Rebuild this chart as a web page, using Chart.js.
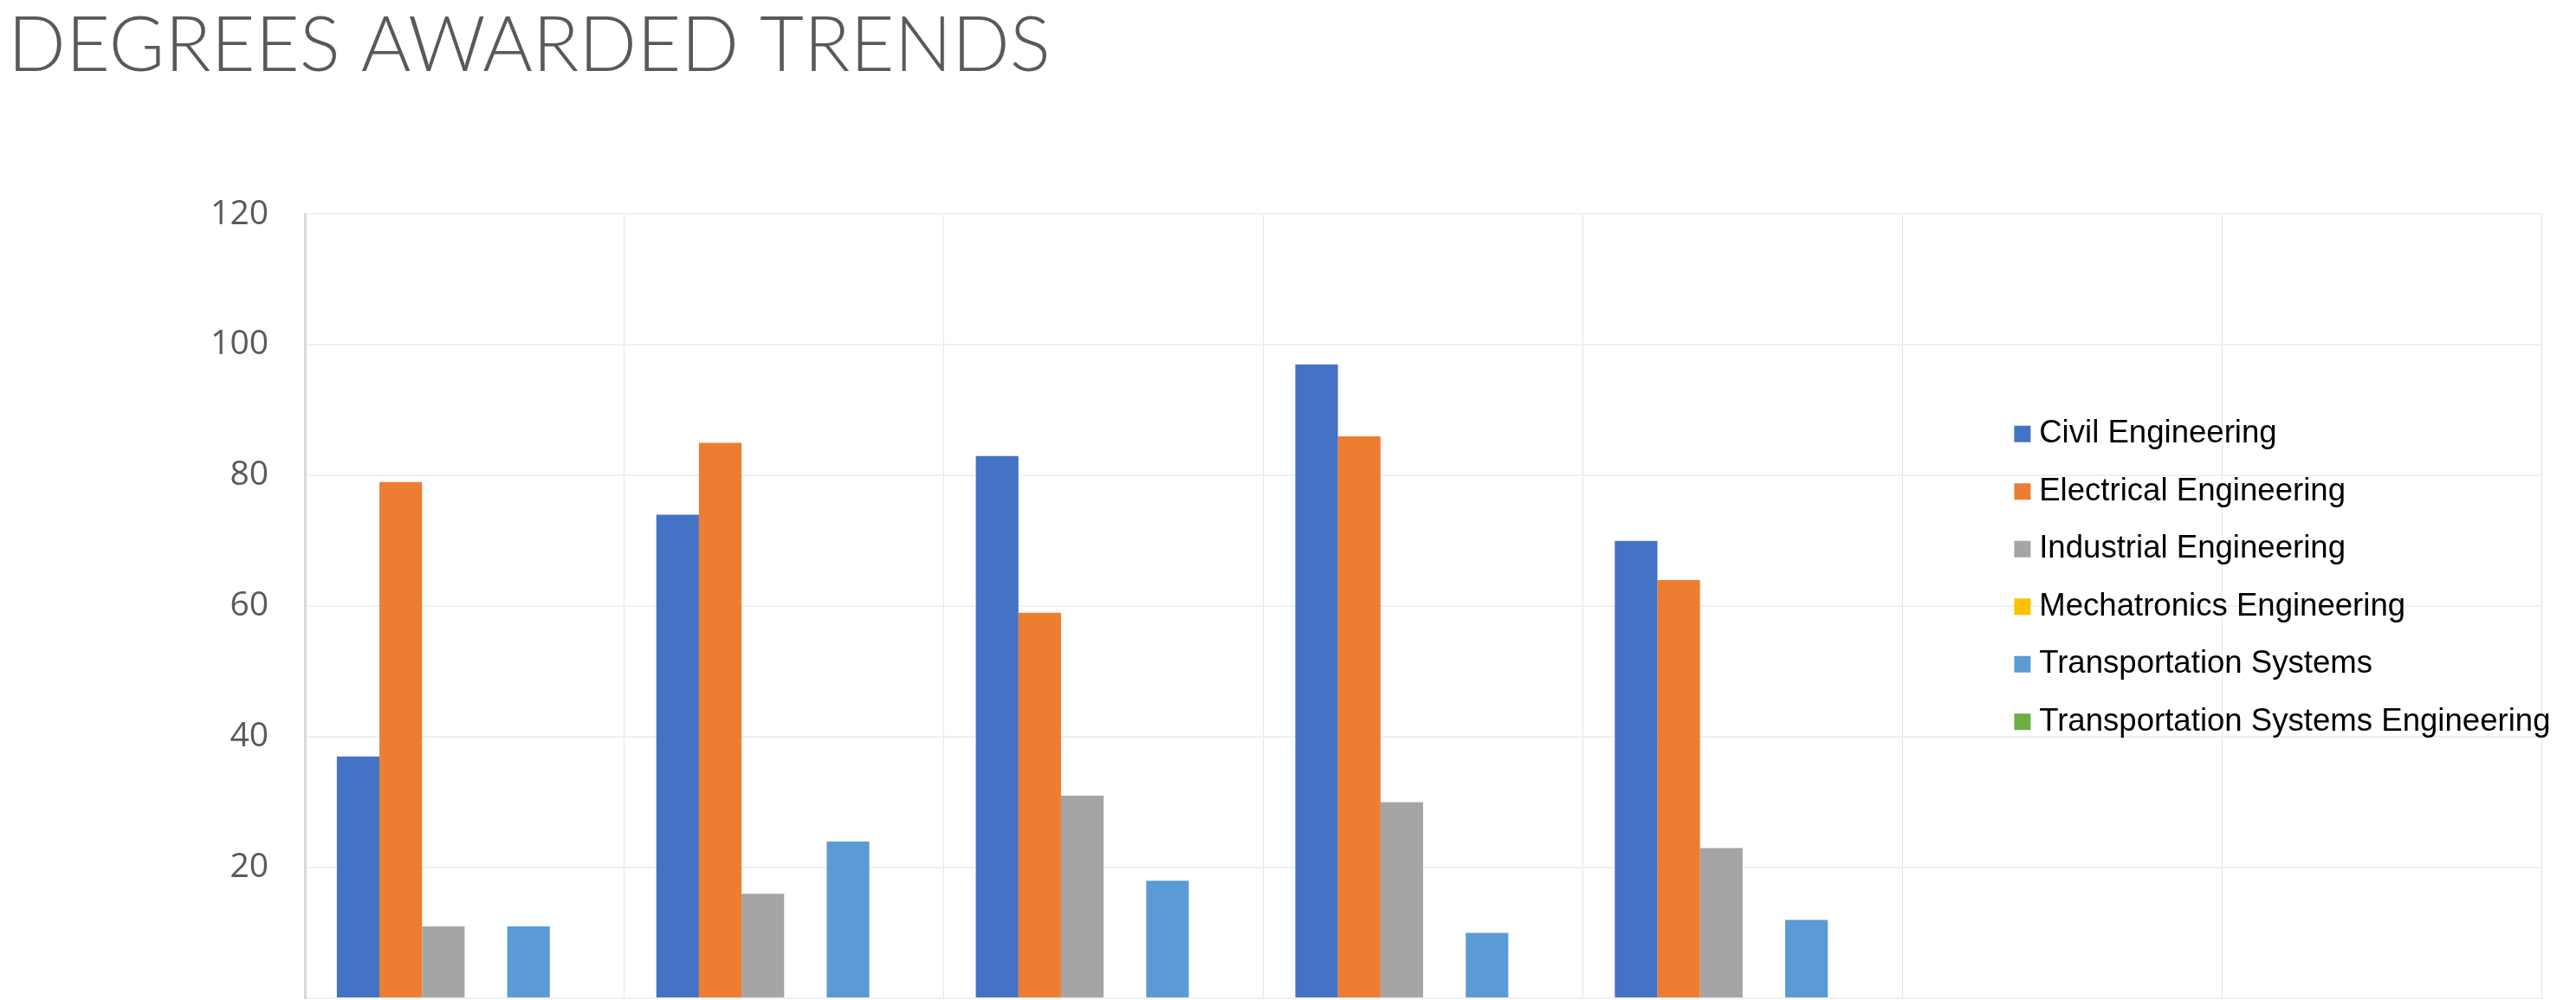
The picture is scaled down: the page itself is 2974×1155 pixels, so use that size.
<!DOCTYPE html>
<html lang="en">
<head>
<meta charset="utf-8">
<title>Degrees Awarded Trends</title>
<script src="https://cdn.jsdelivr.net/npm/chart.js@4.4.1/dist/chart.umd.min.js"></script>
<style>
  html, body { margin: 0; padding: 0; background: #ffffff; overflow: hidden; }
  #wrap { position: relative; width: 2974px; height: 1155px; }
</style>
</head>
<body>
<div id="wrap"><canvas id="degreesChart"></canvas></div>
<script>
// Yıllar grafikte görünmüyor (eksen etiketleri kırpılmış), sadece kategori yeri tutuyor
const YEARS = ["2014", "2015", "2016", "2017", "2018", "2019", "2020"];

const CIVIL = [37, 74, 83, 97, 70, null, null];
const ELECTRICAL = [79, 85, 59, 86, 64, null, null];
const INDUSTRIAL = [11, 16, 31, 30, 23, null, null];
const MECHATRONICS = [null, null, null, null, null, null, null];
const TRANSPORT = [11, 24, 18, 10, 12, null, null];
const TRANSPORT_ENG = [null, null, null, null, null, null, null];

const Y_MAX = 120;
const Y_STEP = 20;

const BLUE = "#4472c4";
const ORANGE = "#ed7d31";
const GRAY = "#a5a5a5";
const GOLD = "#ffc000";
const SKY = "#5b9bd5";
const GREEN = "#70ad47";
const INK = "#595959";

const AXIS_W = 343;      // y ekseni genişliği (sol padding 9 ile birlikte 352)
const LEGEND_X = 2304;
const LEGEND_Y = 453;

// Lejant grafiğin içinde, sağ tarafta duruyor
const legendSpot = {
  id: "legendSpot",
  afterLayout(chart) {
    const lg = chart.legend;
    lg.left = LEGEND_X;
    lg.top = LEGEND_Y;
    lg.right = chart.width;
    lg.bottom = chart.height;
  },
};

function series(label, data, color) {
  return {
    label,
    data,
    backgroundColor: color,
    borderWidth: 0,
    categoryPercentage: 0.8,
    barPercentage: 1.0,
  };
}

new Chart(document.getElementById("degreesChart"), {
  type: "bar",
  data: {
    labels: YEARS,
    datasets: [
      series("Civil Engineering", CIVIL, BLUE),
      series("Electrical Engineering", ELECTRICAL, ORANGE),
      series("Industrial Engineering", INDUSTRIAL, GRAY),
      series("Mechatronics Engineering", MECHATRONICS, GOLD),
      series("Transportation Systems", TRANSPORT, SKY),
      series("Transportation Systems Engineering", TRANSPORT_ENG, GREEN),
    ],
  },
  options: {
    responsive: true,
    maintainAspectRatio: false,
    animation: false,
    layout: { padding: { left: 9, right: 40, top: 0, bottom: 2 } },
    plugins: {
      title: {
        display: true,
        text: "DEGREES AWARDED TRENDS",
        align: "start",
        color: INK,
        font: { family: "Lato", size: 88, weight: 300, lineHeight: 1.13 },
        padding: { top: 4, bottom: 144 },
      },
      legend: {
        position: "chartArea",
        align: "start",
        labels: {
          usePointStyle: true,
          pointStyle: "rect",
          boxWidth: 2,
          boxHeight: 19,
          padding: 29.9,
          color: "#000000",
          font: { family: "Liberation Sans", size: 36.6 },
        },
      },
      tooltip: { enabled: false },
    },
    scales: {
      x: {
        grid: { color: "#e6e6e6", lineWidth: 1, drawTicks: false },
        border: { display: true, color: "#efefef", width: 2 },
        ticks: { display: false },
      },
      y: {
        min: 0,
        max: Y_MAX,
        afterFit: (scale) => {
          scale.width = AXIS_W;
          // etiket boşluğu alt/üst kenara taşmasın
          scale.paddingTop = 0;
          scale.paddingBottom = 0;
        },
        ticks: {
          stepSize: Y_STEP,
          padding: 42,
          color: INK,
          font: { family: "Open Sans", size: 39 },
          callback: (v) => (v === 0 ? "" : v),
        },
        grid: { color: "#f0f0f0", lineWidth: 2, drawTicks: false },
        border: { color: "#d9d9d9", width: 3 },
      },
    },
  },
  plugins: [legendSpot],
});
</script>
</body>
</html>
